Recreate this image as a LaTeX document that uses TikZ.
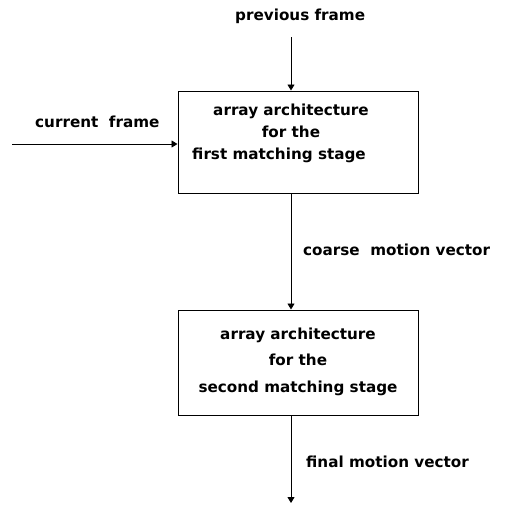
\documentclass[tikz,border=0pt]{standalone}
\usepackage{fontspec}
\setmainfont{DejaVu Sans}
\usetikzlibrary{arrows.meta}
\begin{document}
\begin{tikzpicture}[x=1pt,y=-1pt,
  every node/.style={font=\bfseries\fontsize{15.2}{21.7}\selectfont, inner sep=0pt},
  stagebox/.style={draw, line width=1pt, minimum width=240pt, minimum height=#1},
  stagetext/.style={align=center},
  flow/.style={line width=0.9pt, -{Triangle[width=7pt,length=6pt]}},
  lbl/.style={anchor=base west}]
\useasboundingbox (0,0) rectangle (506,504);

% processing stages
\node[stagebox=102pt] (b1) at (298,142) {};
\node[stagetext] (t1) at (291,133.5)
  {array architecture\\ for the\hspace*{0pt}\\ first matching stage\hspace*{24pt}};
\node[stagebox=105pt] (b2) at (298,362.5) {};
\node[stagetext, font=\bfseries\fontsize{15.2}{26.5}\selectfont] (t2) at (298,361.5)
  {array architecture\\ for the\hspace*{12pt}\\ second matching stage};

% inputs and outputs
\coordinate (prev) at (291,37);
\coordinate (cur) at (12,144);
\coordinate (out) at (291,503);

\node[lbl] (lprev) at (235,20.5) {previous frame};
\node[lbl] (lcur) at (35,127.5) {current\ \ frame};
\node[lbl] (lcoarse) at (303,255.5) {coarse\ \ motion vector};
\node[lbl] (lfinal) at (306,467) {final motion vector};

\draw[flow] (prev) -- (prev |- b1.north);
\draw[flow] (cur) -- (cur -| b1.west);
\draw[flow] (prev |- b1.south) -- (prev |- b2.north);
\draw[flow] (prev |- b2.south) -- (out);
\end{tikzpicture}
\end{document}
